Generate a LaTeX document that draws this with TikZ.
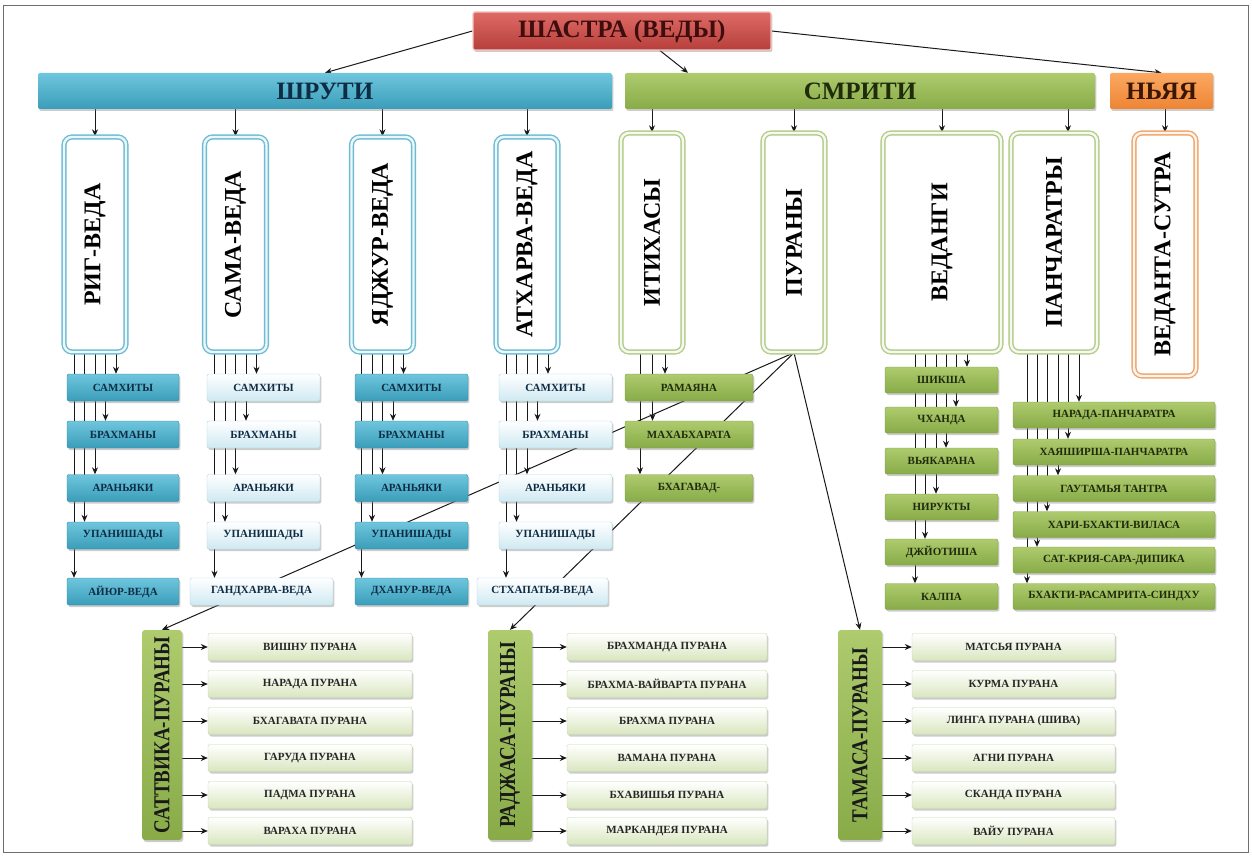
\documentclass[tikz,border=0pt]{standalone}
\usepackage{fontspec}
\setmainfont{Liberation Serif}
\usepackage{graphicx}
\usetikzlibrary{arrows.meta,shadows}
\pgfdeclarelayer{bg}
\pgfsetlayers{bg,main}
\definecolor{redT}{HTML}{DE6A66}
\definecolor{redB}{HTML}{B73F3B}
\definecolor{redE}{HTML}{F4C4C2}
\definecolor{redTx}{HTML}{3E0D0D}
\definecolor{bluT}{HTML}{6FC6DD}
\definecolor{bluB}{HTML}{3A9DB9}
\definecolor{bluE}{HTML}{2F8AA5}
\definecolor{bluTx}{HTML}{0E2C44}
\definecolor{grnT}{HTML}{AECB6E}
\definecolor{grnB}{HTML}{88AB48}
\definecolor{grnE}{HTML}{7B9C40}
\definecolor{grnTx}{HTML}{1F2B0A}
\definecolor{orgT}{HTML}{FBA862}
\definecolor{orgB}{HTML}{EE8434}
\definecolor{orgTx}{HTML}{3B1700}
\definecolor{lbB}{HTML}{CFE9F2}
\definecolor{lbE}{HTML}{A9D5E4}
\definecolor{lgB}{HTML}{D9E6BF}
\definecolor{lgE}{HTML}{C5D6A6}
\definecolor{vblu}{HTML}{6DBCD3}
\definecolor{vgrn}{HTML}{B3CC88}
\definecolor{vorg}{HTML}{EFA46A}
\definecolor{framec}{HTML}{6E6E6E}
\tikzset{
 txt/.style={font=\fontsize{#1}{#1}\selectfont\bfseries},
 box/.style 2 args={minimum width=#1pt, minimum height=#2pt, inner sep=0pt},
 shad/.style={drop shadow={opacity=0.4, shadow xshift=1.4pt, shadow yshift=-2pt}},
 topbox/.style={rounded corners=2pt, shad, top color=redT, bottom color=redB, draw=redE, line width=1.2pt, text=redTx, txt=25},
 barB/.style={rounded corners=2pt, shad, top color=bluT, bottom color=bluB, text=bluTx, txt=25},
 barG/.style={rounded corners=2pt, shad, top color=grnT, bottom color=grnB, text=grnTx, txt=25},
 barO/.style={rounded corners=2pt, shad, top color=orgT, bottom color=orgB, text=orgTx, txt=25},
 vbox/.style={draw=#1, double=#1!12, double distance=2.4pt, line width=1.4pt, rounded corners=8pt, fill=white, inner sep=0pt, txt=24, text=black},
 subD/.style={rounded corners=2pt, shad, top color=bluT, bottom color=bluB, draw=bluE, line width=0.4pt, text=bluTx, txt=11},
 subL/.style={rounded corners=2pt, shad, top color=white, bottom color=lbB, draw=lbE, line width=0.4pt, text=bluTx, txt=11},
 subG/.style={rounded corners=2pt, shad, top color=grnT, bottom color=grnB, draw=grnE, line width=0.4pt, text=grnTx, txt=11},
 subP/.style={rounded corners=2pt, shad, top color=white, bottom color=lgB, draw=lgE, line width=0.4pt, text=black!85, txt=11},
 grp/.style={rounded corners=3pt, shad, top color=grnT, bottom color=grnB, text=black!90, txt=19},
 arr/.style={draw=black!90, line width=1pt, -{Stealth[length=7pt,width=6pt]}},
}
\begin{document}
\begin{tikzpicture}[x=1pt,y=-1pt]
\path[use as bounding box] (0,0) rectangle (1252,858);
\draw[framec, line width=0.8pt] (3,5) rectangle (1248,852);

% top level
\node[topbox, box={298}{38}] (shastra) at (622,31) {ШАСТРА (ВЕДЫ)};
\node[barB, box={574}{36}] (shruti) at (325,91) {ШРУТИ};
\node[barG, box={470}{36}] (smriti) at (860,91) {СМРИТИ};
\node[barO, box={103}{36}] (nyaya) at (1161.5,91) {НЬЯЯ};

% vertical boxes
\node[vbox=vblu, box={62}{215}] (rig) at (95,244.5) {\rotatebox{90}{РИГ-ВЕДА}};
\node[vbox=vblu, box={62}{215}] (sama) at (235.5,244.5) {\rotatebox{90}{САМА-ВЕДА}};
\node[vbox=vblu, box={62}{215}] (yajur) at (382.5,244.5) {\rotatebox{90}{ЯДЖУР-ВЕДА}};
\node[vbox=vblu, box={62}{215}] (athar) at (527,244.5) {\rotatebox{90}{АТХАРВА-ВЕДА}};
\node[vbox=vgrn, box={62}{219}] (itih) at (652,242.5) {\rotatebox{90}{ИТИХАСЫ}};
\node[vbox=vgrn, box={62}{219}] (puran) at (794,242.5) {\rotatebox{90}{ПУРАНЫ}};
\node[vbox=vgrn, box={118}{219}] (vedang) at (942,242.5) {\rotatebox{90}{ВЕДАНГИ}};
\node[vbox=vgrn, box={86}{219}] (panch) at (1054,242.5) {\rotatebox{90}{ПАНЧАРАТРЫ}};
\node[vbox=vorg, box={62}{243}] (vsutra) at (1165,254.5) {\rotatebox{90}{ВЕДАНТА-СУТРА}};

% shruti sub boxes
\foreach \i/\y/\t in {1/387.5/САМХИТЫ,2/434.5/БРАХМАНЫ,3/488/АРАНЬЯКИ,4/535.5/УПАНИШАДЫ}{
  \node[subD, box={112}{27}] (rA\i) at (123,\y) {\t};
  \node[subL, box={113}{27}] (sA\i) at (263.5,\y) {\t};
  \node[subD, box={113}{27}] (yA\i) at (411.5,\y) {\t};
  \node[subL, box={113}{27}] (aA\i) at (555.5,\y) {\t};
}
\node[subD, box={112}{27}] (rA5) at (123,591.5) {АЙЮР-ВЕДА};
\node[subL, box={143}{27}] (sA5) at (261.5,591.5) {ГАНДХАРВА-ВЕДА};
\node[subD, box={113}{27}] (yA5) at (411.5,591.5) {ДХАНУР-ВЕДА};
\node[subL, box={131}{27}] (aA5) at (542.5,591.5) {СТХАПАТЬЯ-ВЕДА};

% itihasa sub boxes
\node[subG, box={128}{27}] (it1) at (689,387.5) {РАМАЯНА};
\node[subG, box={128}{27}] (it2) at (689,434.5) {МАХАБХАРАТА};
\node[subG, box={128}{27}] (it3) at (689,488) {БХАГАВАД-};

% vedanga sub boxes
\foreach \i/\y/\t in {1/380/ШИКША,2/420/ЧХАНДА,3/461/ВЬЯКАРАНА,4/507/НИРУКТЫ,5/552/ДЖЙОТИША,6/596.5/КАЛПА}{
  \node[subG, box={113}{26}] (vd\i) at (941.5,\y) {\t};
}
% pancharatra sub boxes
\foreach \i/\y/\t in {1/415/НАРАДА-ПАНЧАРАТРА,2/452/ХАЯШИРША-ПАНЧАРАТРА,3/488.5/ГАУТАМЬЯ ТАНТРА,4/524.5/ХАРИ-БХАКТИ-ВИЛАСА,5/560/САТ-КРИЯ-САРА-ДИПИКА,6/596.5/БХАКТИ-РАСАМРИТА-СИНДХУ}{
  \node[subG, box={202}{26}] (pc\i) at (1114,\y) {\t};
}

% purana groups
\node[grp, box={40}{210}] (sattv) at (162,735) {\rotatebox{90}{\scalebox{1}[1.2]{САТТВИКА-ПУРАНЫ}}};
\node[grp, box={44}{210}] (rajas) at (510,735) {\rotatebox{90}{\scalebox{1}[1.2]{РАДЖАСА-ПУРАНЫ}}};
\node[grp, box={44}{210}] (tamas) at (860,735) {\rotatebox{90}{\scalebox{1}[1.2]{ТАМАСА-ПУРАНЫ}}};

\foreach \i/\y/\t in {1/647/ВИШНУ ПУРАНА,2/684/НАРАДА ПУРАНА,3/721/БХАГАВАТА ПУРАНА,4/758/ГАРУДА ПУРАНА,5/795/ПАДМА ПУРАНА,6/831/ВАРАХА ПУРАНА}{
  \node[subP, box={204}{27}] (sv\i) at (310,\y) {\t};
}
\foreach \i/\y/\t in {1/647/БРАХМАНДА ПУРАНА,2/684/БРАХМА-ВАЙВАРТА ПУРАНА,3/721/БРАХМА ПУРАНА,4/758/ВАМАНА ПУРАНА,5/795/БХАВИШЬЯ ПУРАНА,6/831/МАРКАНДЕЯ ПУРАНА}{
  \node[subP, box={200}{27}] (rj\i) at (667,\y) {\t};
}
\foreach \i/\y/\t in {1/647/МАТСЬЯ ПУРАНА,2/684/КУРМА ПУРАНА,3/721/ЛИНГА ПУРАНА (ШИВА),4/758/АГНИ ПУРАНА,5/795/СКАНДА ПУРАНА,6/831/ВАЙУ ПУРАНА}{
  \node[subP, box={203}{27}] (tm\i) at (1013.5,\y) {\t};
}

\begin{pgfonlayer}{bg}
 \draw[arr] (shastra.west) -- (shruti.north);
 \draw[arr] (660,0 |- shastra.south) -- (688,0 |- smriti.north);
 \draw[arr] (shastra.east) -- (nyaya.north);
 \foreach \n in {rig,sama,yajur,athar} \draw[arr] (shruti.south -| \n.north) -- (\n.north);
 \foreach \n in {itih,puran,vedang} \draw[arr] (smriti.south -| \n.north) -- (\n.north);
 \draw[arr] (1068,0 |- smriti.south) -- (1068,0 |- panch.north);
 \draw[arr] (nyaya.south -| vsutra.north) -- (vsutra.north);
 % fans
 \foreach \x/\c in {116/rA1,105.5/rA2,95/rA3,84.5/rA4,74/rA5} \draw[arr] (\x,0 |- rig.south) -- (\x,0 |- \c.north);
 \foreach \x/\c in {256.5/sA1,246/sA2,235.5/sA3,225/sA4,214.5/sA5} \draw[arr] (\x,0 |- sama.south) -- (\x,0 |- \c.north);
 \foreach \x/\c in {403.5/yA1,393/yA2,382.5/yA3,372/yA4,361.5/yA5} \draw[arr] (\x,0 |- yajur.south) -- (\x,0 |- \c.north);
 \foreach \x/\c in {548/aA1,537.5/aA2,527/aA3,516.5/aA4,506/aA5} \draw[arr] (\x,0 |- athar.south) -- (\x,0 |- \c.north);
 \foreach \x/\c in {665/it1,652.5/it2,640/it3} \draw[arr] (\x,0 |- itih.south) -- (\x,0 |- \c.north);
 \foreach \x/\c in {967/vd1,956/vd2,946/vd3,936/vd4,925/vd5,915/vd6} \draw[arr] (\x,0 |- vedang.south) -- (\x,0 |- \c.north);
 \foreach \x/\c in {1079/pc1,1068/pc2,1058/pc3,1047/pc4,1037/pc5,1027/pc6} \draw[arr] (\x,0 |- panch.south) -- (\x,0 |- \c.north);
 % puranas
 \draw[arr] (puran.south) -- (sattv.north);
 \draw[arr] (puran.south) -- (rajas.north);
 \draw[arr] (puran.south) -- (tamas.north);
 \foreach \i in {1,...,6}{
   \draw[arr] (sattv.east |- sv\i.west) -- (sv\i.west);
   \draw[arr] (rajas.east |- rj\i.west) -- (rj\i.west);
   \draw[arr] (tamas.east |- tm\i.west) -- (tm\i.west);
 }
\end{pgfonlayer}
\end{tikzpicture}
\end{document}
